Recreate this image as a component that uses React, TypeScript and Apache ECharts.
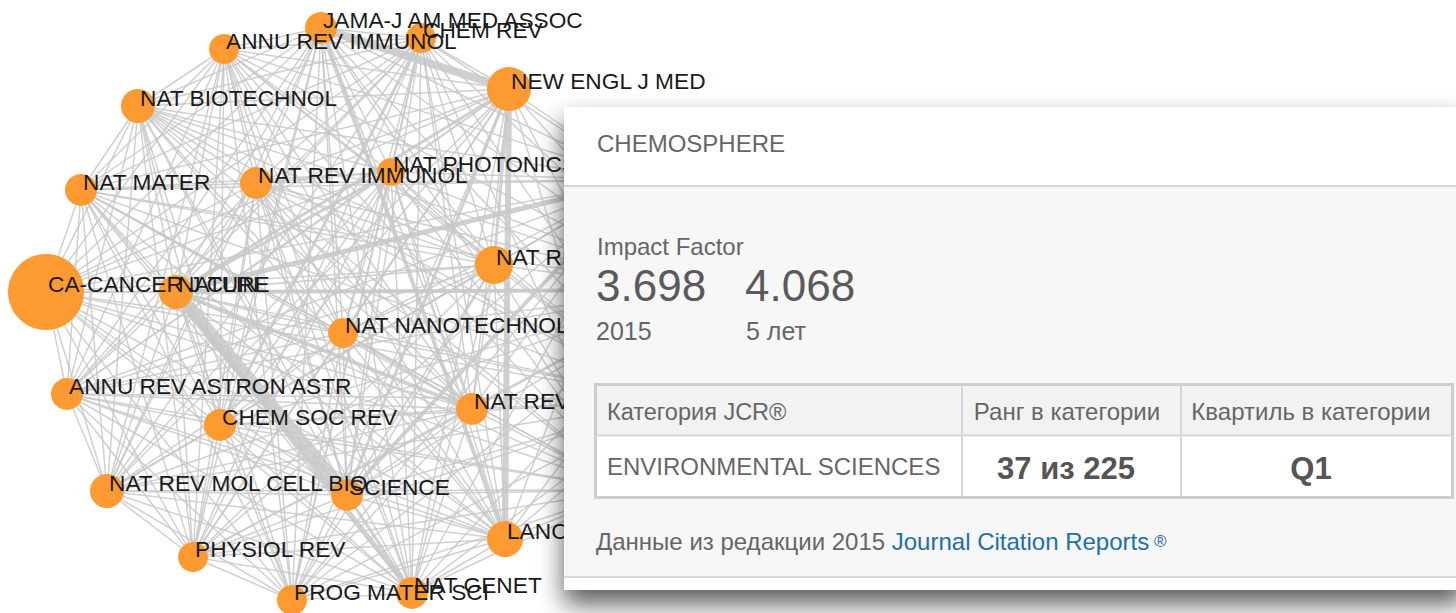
import React, { useEffect, useRef } from 'react';
import * as echarts from 'echarts';

// ---- Network data ----
const nodeNames = [
  'CA-CANCER J CLIN', 'NAT MATER', 'NAT BIOTECHNOL', 'ANNU REV IMMUNOL', 'JAMA-J AM MED ASSOC',
  'CHEM REV', 'NEW ENGL J MED', 'NAT REV IMMUNOL', 'NAT PHOTONICS', 'NATURE',
  'NAT REV CANCER', 'NAT NANOTECHNOL', 'ANNU REV ASTRON ASTR', 'CHEM SOC REV', 'NAT REV DRUG DISCOV',
  'NAT REV MOL CELL BIO', 'SCIENCE', 'LANCET', 'PHYSIOL REV', 'PROG MATER SCI',
  'NAT GENET', 'CELL', 'NAT MED', 'NAT METHODS', 'LANCET ONCOL',
];
const nodeX = [46, 81, 138, 224, 321, 421, 509, 256, 391, 176, 494, 343, 67, 220, 472, 107, 347, 505, 193, 292, 412, 640, 690, 670, 630];
const nodeY = [292, 190, 106, 49, 28, 38, 89, 183, 172, 292, 265, 333, 394, 425, 409, 491, 495, 539, 557, 600, 593, 180, 290, 400, 490];
const nodeSizes = [76, 32, 34, 30, 32, 30, 44, 32, 28, 34, 38, 30, 32, 32, 32, 34, 32, 36, 30, 30, 32, 36, 32, 30, 30];
const labelledCount = 21; // nodes behind the card carry no visible label

const heavyLinks: [string, string, number][] = [
  ['NATURE', 'SCIENCE', 13],
  ['JAMA-J AM MED ASSOC', 'NEW ENGL J MED', 8],
  ['NEW ENGL J MED', 'LANCET', 6],
  ['NATURE', 'NAT GENET', 5],
  ['NATURE', 'CELL', 5],
  ['SCIENCE', 'CELL', 4],
  ['NATURE', 'NAT REV DRUG DISCOV', 4],
  ['JAMA-J AM MED ASSOC', 'LANCET', 4],
  ['NATURE', 'NEW ENGL J MED', 3],
  ['NATURE', 'NAT PHOTONICS', 3],
  ['CHEM REV', 'CHEM SOC REV', 3],
  ['NEW ENGL J MED', 'NAT REV CANCER', 3],
  ['SCIENCE', 'NAT GENET', 3],
  ['SCIENCE', 'NEW ENGL J MED', 3],
  ['NATURE', 'NAT MED', 4],
];
const baseLinkWidth = 1.5;

// ---- Card data ----
const journalTitle = 'CHEMOSPHERE';
const impactLabel = 'Impact Factor';
const impactValues = ['3.698', '4.068'];
const impactPeriods = ['2015', '5 лет'];
const tableHeaders = ['Категория JCR®', 'Ранг в категории', 'Квартиль в категории'];
const tableRow = ['ENVIRONMENTAL SCIENCES', '37 из 225', 'Q1'];
const footerText = 'Данные из редакции 2015 ';
const footerLink = 'Journal Citation Reports';

const FONT = 'Arial, "Liberation Sans", sans-serif';

function txt(text: string, x: number, baseline: number, size: number, fill: string, align = 'left', weight = 'normal') {
  return {
    type: 'text',
    z: 100,
    z2: 5,
    x,
    y: baseline - 0.35 * size,
    style: {
      text,
      fontSize: size,
      fontFamily: FONT,
      fontWeight: weight,
      fill,
      align,
      verticalAlign: 'middle',
    },
  };
}

export default function App() {
  const ref = useRef<HTMLDivElement>(null);
  useEffect(() => {
    document.body.style.margin = '0';
    const chart = echarts.init(ref.current!, undefined, { renderer: 'svg' });

    const nodes = nodeNames.map((name, i) => ({
      name,
      value: [nodeX[i], nodeY[i]],
      symbolSize: nodeSizes[i],
      label: { show: i < labelledCount },
    }));

    const heavy: Record<string, number> = {};
    heavyLinks.forEach(([a, b, w]) => {
      heavy[a + '|' + b] = w;
      heavy[b + '|' + a] = w;
    });
    const links: any[] = [];
    for (let i = 0; i < nodeNames.length; i++) {
      for (let j = i + 1; j < nodeNames.length; j++) {
        const w = heavy[nodeNames[i] + '|' + nodeNames[j]];
        links.push({
          source: nodeNames[i],
          target: nodeNames[j],
          lineStyle: { width: w ?? baseLinkWidth },
        });
      }
    }

    const colX = [962, 1181];
    const graphic: any[] = [
      {
        type: 'rect', z: 100, z2: 0,
        shape: { x: 564, y: 107, width: 900, height: 483 },
        style: { fill: '#ffffff', shadowBlur: 26, shadowColor: 'rgba(0,0,0,0.65)', shadowOffsetY: 14 },
      },
      { type: 'rect', z: 100, z2: 1, shape: { x: 564, y: 187, width: 900, height: 389 }, style: { fill: '#f7f7f7' } },
      { type: 'line', z: 100, z2: 2, shape: { x1: 564, y1: 186, x2: 1456, y2: 186 }, style: { stroke: '#c8c8c8', lineWidth: 1.5 } },
      { type: 'line', z: 100, z2: 2, shape: { x1: 564, y1: 577, x2: 1456, y2: 577 }, style: { stroke: '#d8d8d8', lineWidth: 2 } },
      { type: 'rect', z: 100, z2: 2, shape: { x: 597, y: 386, width: 854, height: 49 }, style: { fill: '#f2f2f2' } },
      { type: 'rect', z: 100, z2: 2, shape: { x: 597, y: 436, width: 854, height: 60 }, style: { fill: '#ffffff' } },
      { type: 'line', z: 100, z2: 3, shape: { x1: 597, y1: 435.5, x2: 1451, y2: 435.5 }, style: { stroke: '#d6d6d6', lineWidth: 2 } },
      ...colX.map((x) => ({ type: 'line', z: 100, z2: 3, shape: { x1: x, y1: 386, x2: x, y2: 496 }, style: { stroke: '#d6d6d6', lineWidth: 2 } })),
      {
        type: 'rect', z: 100, z2: 4,
        shape: { x: 595.5, y: 384.5, width: 857, height: 113 },
        style: { fill: 'none', stroke: '#cdcdcd', lineWidth: 3 },
      },
      txt(journalTitle, 597, 152, 24, '#666666'),
      txt(impactLabel, 597, 255, 24, '#666666'),
      txt(impactValues[0], 596, 301, 44, '#5a5a5a'),
      txt(impactValues[1], 745, 301, 44, '#5a5a5a'),
      txt(impactPeriods[0], 596, 340, 25, '#666666'),
      txt(impactPeriods[1], 746, 340, 25, '#666666'),
      txt(tableHeaders[0], 607, 420, 23.5, '#666666'),
      txt(tableHeaders[1], 1067, 420, 24, '#666666', 'center'),
      txt(tableHeaders[2], 1311, 420, 24, '#666666', 'center'),
      txt(tableRow[0], 607, 475, 24, '#666666'),
      txt(tableRow[1], 1066, 479, 31, '#555555', 'center', 'bold'),
      txt(tableRow[2], 1311, 479, 31, '#555555', 'center', 'bold'),
      {
        type: 'text', z: 100, z2: 5,
        x: 596, y: 550 - 0.35 * 24,
        style: {
          text: '{a|' + footerText + '}{b|' + footerLink + '}{c| ®}',
          fontFamily: FONT,
          fontSize: 24,
          verticalAlign: 'middle',
          rich: {
            a: { fill: '#666666', fontSize: 24, fontFamily: FONT },
            b: { fill: '#1f6fa8', fontSize: 24, fontFamily: FONT },
            c: { fill: '#1f6fa8', fontSize: 17, fontFamily: FONT },
          },
        },
      },
    ];

    chart.setOption({
      animation: false,
      grid: { left: 0, right: 0, top: 0, bottom: 0 },
      xAxis: { type: 'value', min: 0, max: 1456, show: false },
      yAxis: { type: 'value', min: 0, max: 613, inverse: true, show: false },
      series: [
        {
          type: 'graph',
          coordinateSystem: 'cartesian2d',
          layout: 'none',
          data: nodes,
          links,
          symbol: 'circle',
          itemStyle: { color: '#fd9a32', opacity: 1 },
          lineStyle: { color: '#c8c8c8', opacity: 0.85, curveness: 0 },
          label: {
            show: true,
            position: 'inside',
            align: 'left',
            verticalAlign: 'middle',
            offset: [2, -8],
            fontSize: 22.7,
            fontFamily: FONT,
            color: '#1a1a1a',
          },
          emphasis: { disabled: true },
        },
      ],
      graphic,
    });
    return () => chart.dispose();
  }, []);
  return <div ref={ref} style={{ width: 1456, height: 613 }} />;
}
